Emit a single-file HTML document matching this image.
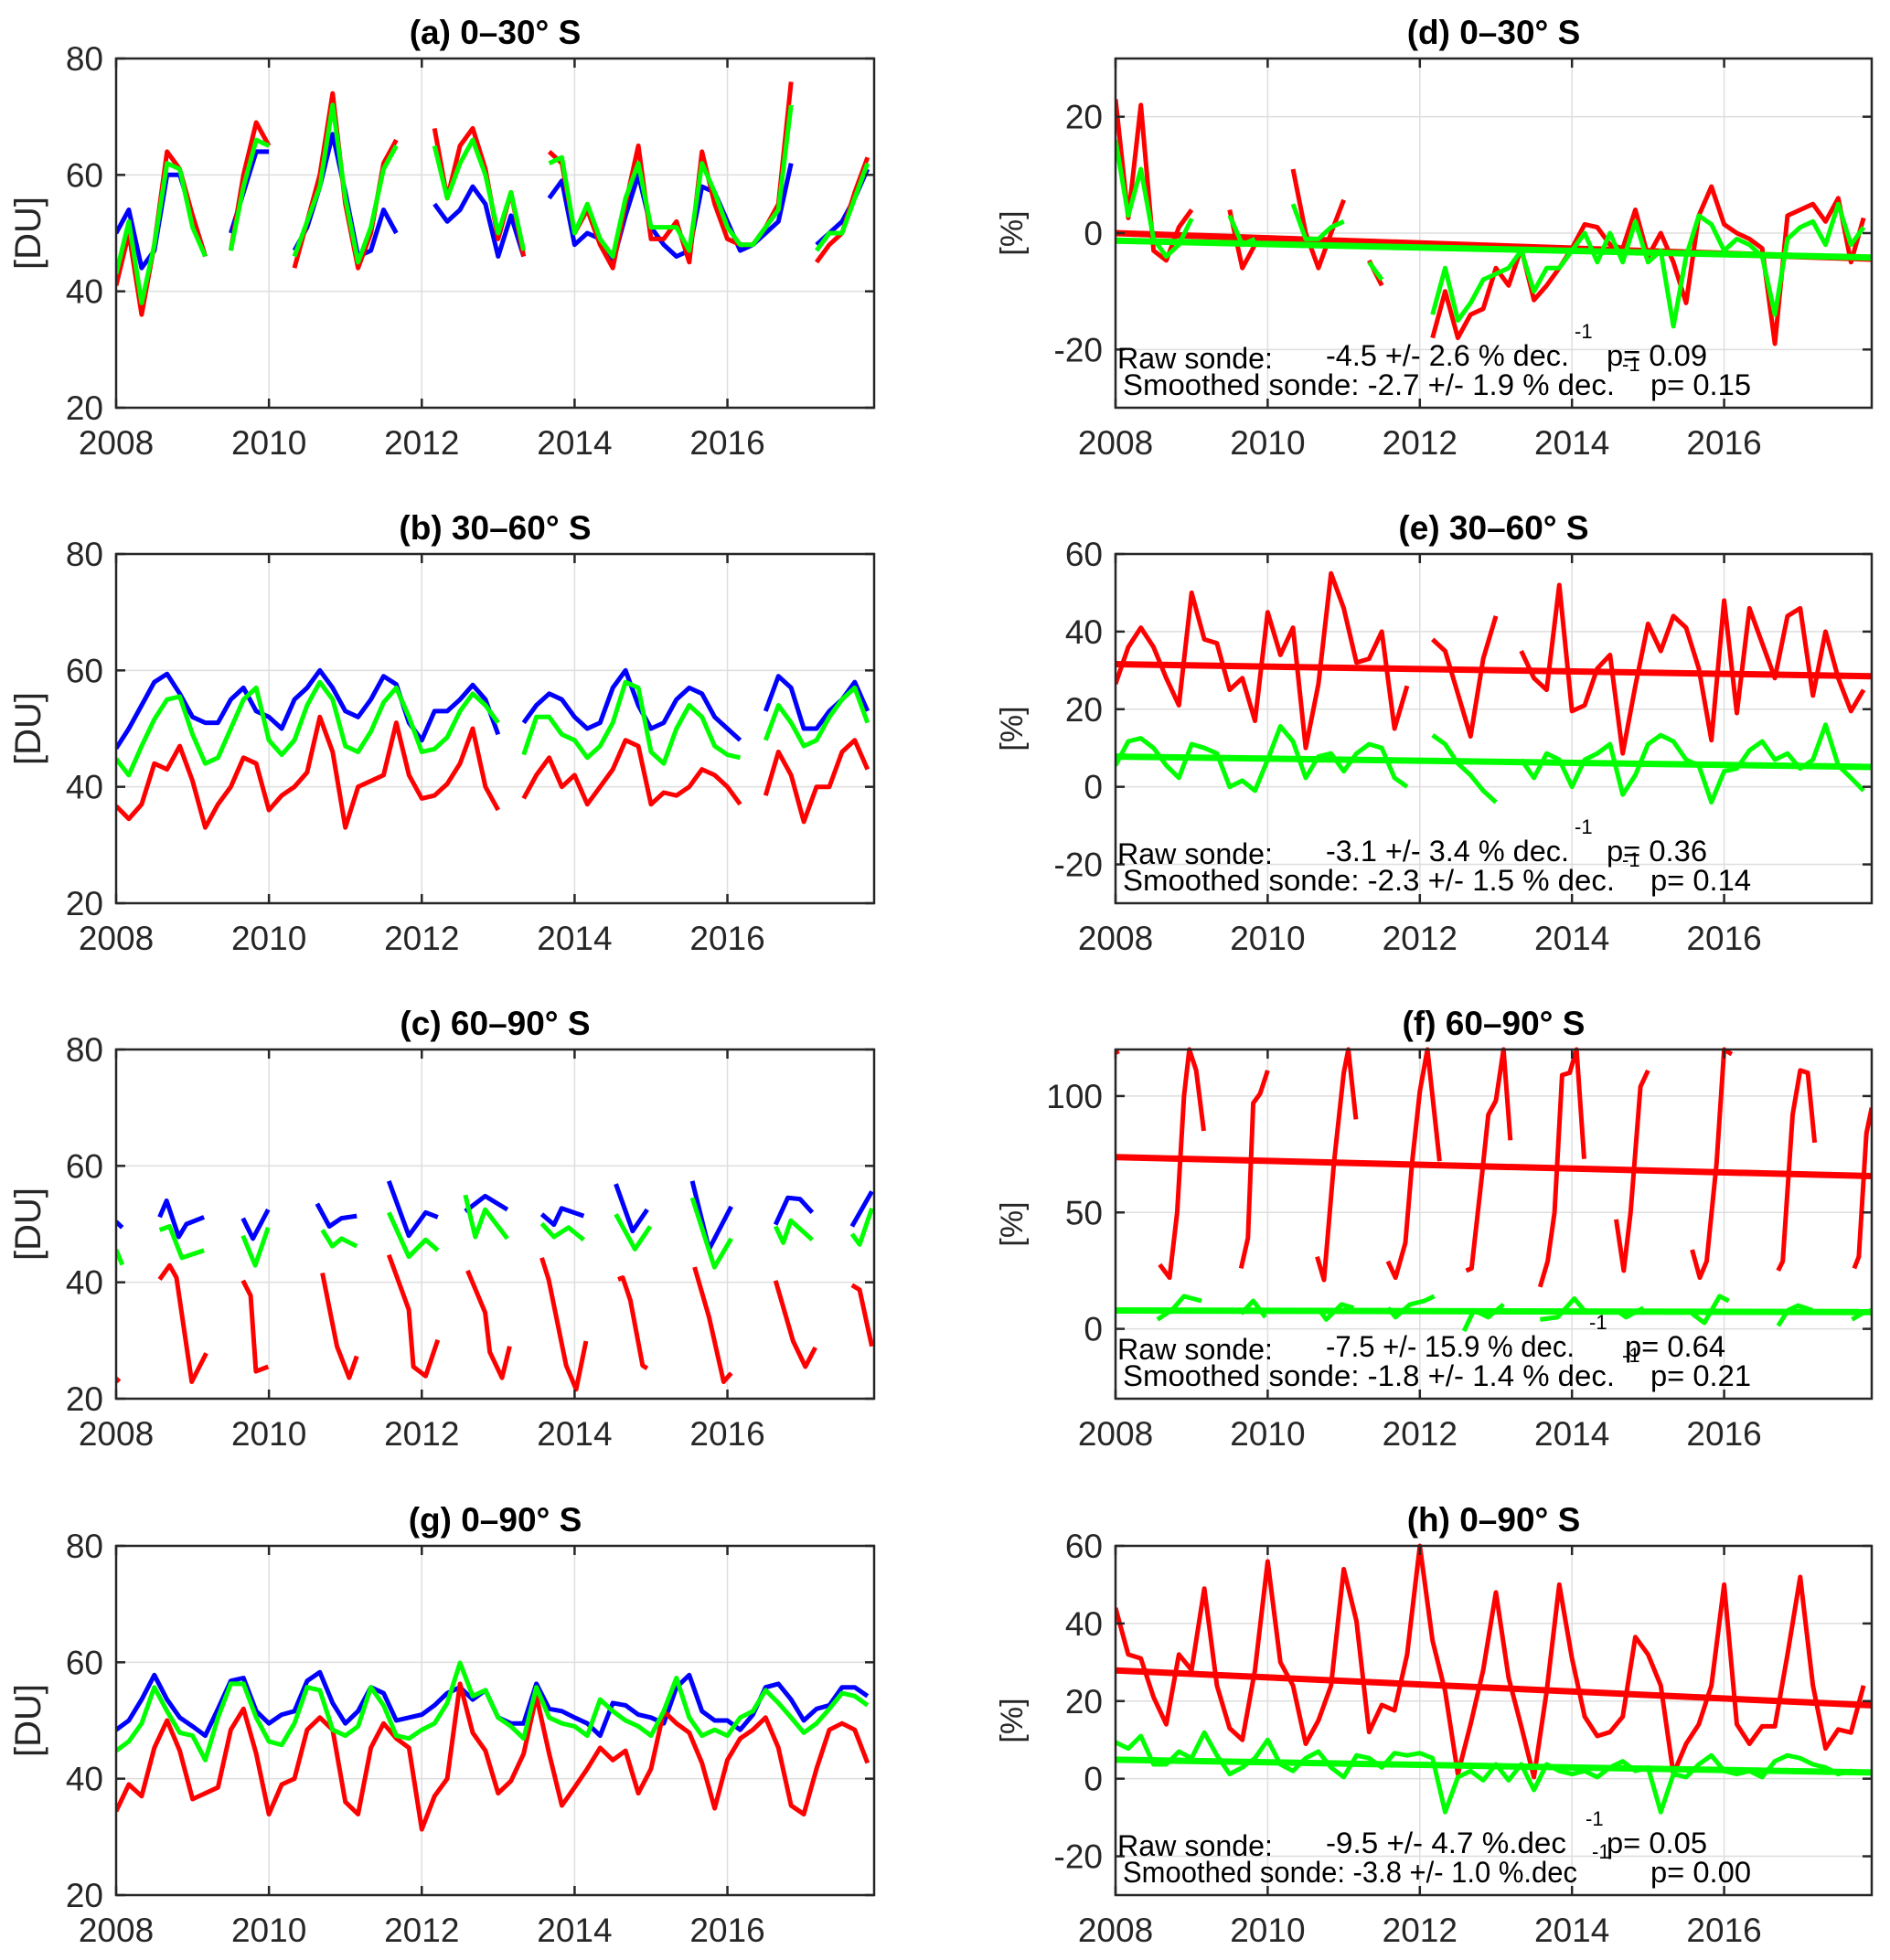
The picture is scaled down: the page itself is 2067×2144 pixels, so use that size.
<!DOCTYPE html>
<html><head><meta charset="utf-8"><title>Ozone panels</title>
<style>
html,body{margin:0;padding:0;background:#fff;}
svg{display:block;font-family:"Liberation Sans",Arial,sans-serif;}
</style></head>
<body>
<svg id="fig" width="2067" height="2144" viewBox="0 0 2067 2144" xmlns="http://www.w3.org/2000/svg">
<rect x="0" y="0" width="2067" height="2144" fill="#fff"/>
</svg>
<script>
// ---------- shared categories ----------
const xTickYears = [2008, 2010, 2012, 2014, 2016];
const biYears = Array.from({length: 60}, (_, i) => 2008 + i / 6);
const N = null;

// ---------- (a) 0-30S [DU] ----------
const aRed = [41,50,36,48,64,61,53,46,N,47, 60,69,65,N,44,52,60,74,55,44, 50,62,66,N,N,68,56,65,68,61, 49,57,46,N,64,62,50,54,48,44, 55,65,49,49,52,45,64,55,49,48, 48,51,55,76,N,45,48,50,57,63];
const aBlue = [50,54,44,47,60,60,53,46,N,50, 57,64,64,N,47,51,58,67,57,46, 47,54,50,N,N,55,52,54,58,55, 46,53,46,N,56,59,48,50,49,45, 53,60,51,48,46,47,58,57,52,47, 48,50,52,62,N,48,50,52,56,61];
const aGreen = [43,52,38,48,62,61,51,46,N,47, 58,66,65,N,46,52,58,72,56,45, 51,61,65,N,N,65,56,62,66,60, 50,57,47,N,62,63,50,55,49,46, 56,62,51,51,51,47,62,57,51,48, 48,51,54,72,N,47,50,50,56,62];

// ---------- (b) 30-60S ----------
const bBlue = [46.6,50,54,58,59.4,56,52,51,51,55, 57,53,52,50,55,57,60,57,53,52, 55,59,57.6,51,48,53,53,55,57.5,55, 49,N,51,54,56,55,52,50,51,57, 60,54,50,51,55,57,56,52,50,48, N,53,59,57,50,50,53,55,58,53];
const bGreen = [44.8,42,47,51.6,55,55.5,49,44,45,50, 55,57,48,45.5,48,54,58,55,47,46, 49.5,54.5,57,52,46,46.5,48.5,53,56,54, 51,N,45.5,52,52,49,48,45,47,51, 58,57,46,44,50,54,52,47,45.5,45, N,48,54,51,47,48,52,55,57,51];
const bRed = [36.7,34.5,37,44,43,47,41,33,37,40, 45,44,36,38.5,40,42.5,52,46,33,40, 41,42,51,42,38,38.5,40.5,44,50,40, 36,N,38,42,45,40,42,37,40,43, 48,47,37,39,38.5,40,43,42,40,37, N,38.5,46,42,34,40,40,46,48,43];

// ---------- (c) 60-90S (seasonal segments) ----------
const cBlueT = [2008.0,2008.08,N, 2008.57,2008.66,2008.82,2008.92,2009.15,N, 2009.66,2009.79,2009.99,N, 2010.63,2010.79,2010.95,2011.15,N, 2011.57,2011.83,2012.05,2012.21,N, 2012.57,2012.83,2013.12,N, 2013.57,2013.73,2013.83,2014.12,N, 2014.54,2014.76,2014.95,N, 2015.54,2015.76,2016.05,N, 2016.63,2016.79,2016.95,2017.11,N, 2017.63,2017.89];
const cBlueV = [50.4,49.4,N, 51.2,54,47.8,50,51.2,N, 51,47.5,52.5,N, 53.5,49.6,51,51.4,N, 57.4,48,52,51.2,N, 52.2,54.8,52.5,N, 51.7,49.9,52.7,51.4,N, 56.9,48.8,52.5,N, 57.4,45.7,53,N, 49.9,54.5,54.3,52,N, 49.6,55.6];
const cGreenT = [2008.0,2008.08,N, 2008.57,2008.7,2008.86,2009.15,N, 2009.66,2009.82,2009.99,N, 2010.7,2010.83,2010.95,2011.15,N, 2011.57,2011.83,2012.05,2012.21,N, 2012.57,2012.7,2012.83,2013.12,N, 2013.57,2013.73,2013.92,2014.12,N, 2014.54,2014.79,2014.99,N, 2015.54,2015.83,2016.05,N, 2016.63,2016.73,2016.83,2017.11,N, 2017.63,2017.73,2017.89];
const cGreenV = [45.6,43,N, 49,49.6,44.2,45.5,N, 48,42.9,49.4,N, 49,46.2,47.5,46.2,N, 52,44.4,47.3,45.5,N, 55,47.8,52.5,47.5,N, 50.1,47.8,49.4,47.3,N, 51.7,45.7,49.6,N, 54.5,42.6,47.5,N, 49.6,46.8,50.6,47.3,N, 48.3,46.5,52.7];
const cRedT = [2008.0,2008.04,N, 2008.57,2008.7,2008.79,2008.99,2009.18,N, 2009.66,2009.76,2009.83,2009.99,N, 2010.7,2010.89,2011.05,2011.15,N, 2011.57,2011.83,2011.89,2012.05,2012.21,N, 2012.6,2012.83,2012.89,2013.05,2013.15,N, 2013.57,2013.66,2013.89,2014.02,2014.15,N, 2014.57,2014.63,2014.73,2014.89,2014.95,N, 2015.57,2015.76,2015.95,2016.05,N, 2016.63,2016.86,2017.02,2017.15,N, 2017.63,2017.73,2017.89];
const cRedV = [22.9,23.5,N, 40.5,42.9,40.8,22.9,27.8,N, 40.3,37.7,24.7,25.5,N, 41.6,29,23.6,27.3,N, 44.7,35.3,25.5,23.9,30.1,N, 42,34.8,28,23.6,29,N, 44.2,40.5,25.7,21.6,29.9,N, 40.5,40.8,36.9,25.7,25.2,N, 42.6,34,22.9,24.4,N, 40.3,29.9,25.5,28.8,N, 39.5,38.7,29];

// ---------- (g) 0-90S ----------
const gBlue = [48.4,50,53.6,57.8,53.6,50.5,49,47.4,52,56.8, 57.3,51.6,49.5,51,51.6,56.8,58.3,53,49.5,51.6, 55.7,54.7,50,50.5,51,52.6,54.7,55.7,53.6,55.2, 50.5,49.5,49.5,56.3,52,51.6,50.5,49.5,47.4,53, 52.6,51,50.5,49.5,55.7,57.8,51.6,50,50,48.4, 51,55.7,56.3,53.6,50,52,52.6,55.7,55.7,54.2];
const gGreen = [44.8,46.4,49.5,55.7,51.6,47.9,47.4,43.2,50.5,56.3, 56.3,50.5,46.4,45.8,49.5,55.7,55.2,48.4,47.4,49, 55.7,52.6,47.4,46.9,48.4,49.5,53,59.9,54.2,55.2, 50.5,49,46.9,55.7,50.5,49.5,49,47.4,53.6,51.6, 50,49,47.4,51.6,57.3,50.5,47.4,48.4,47.4,50.5, 51.6,55.2,53,50.5,47.9,49.5,52,54.7,54.2,52.6];
const gRed = [34.4,39,37,45.3,50,44.8,36.5,37.5,38.5,48.4, 52,44.3,33.9,39,40,48.4,50.5,48.4,36,33.9, 45.3,49.5,46.9,45.3,31.3,37,40,56.3,47.9,44.8, 37.5,39.6,44.3,54.2,44.3,35.4,38.5,41.7,45.3,43.2, 44.8,37.5,41.7,51.6,49.5,47.9,42.7,34.9,43.2,46.9, 48.4,50.5,45.3,35.4,33.9,41.7,48.4,49.5,48.4,42.7];

// ---------- (d) 0-30S [%] ----------
const dRed = [23,2.6,22,-3,-4.7,1,4,N,N,4, -6,-2,N,N,11,0,-6,0,5.7,N, -4.7,-9,N,N,N,-18,-10,-18,-14,-13, -6,-9,-2.6,-11.5,-9,-6,-2.6,1.5,1,-2, -2.6,4,-4,0,-5,-12,3,8,1.5,0, -1,-2.6,-19,3,4,5,2,6,-5,2.6];
const dGreen = [16,3,11,-1,-4,-2,2.5,N,N,3, -2,-1,N,N,5,-1,-1,1,2,N, -5,-8,N,N,N,-14,-6,-15,-12,-8, -7,-6,-3,-10,-6,-6,-3,0,-5,0, -5,2,-5,-3,-16,-4,3,1.5,-3,-1, -2,-4,-14,-1,1,2,-2,5,-2,1];
const dRedTrend = [0, -4.4];
const dGreenTrend = [-1.3, -4.2];

// ---------- (e) 30-60S [%] ----------
const eRed = [26.5,36,41,36,28,21,50,38,37,25, 28,17,45,34,41,10,26.5,55,46,32, 33,40,15,26,N,38,35,24,13,33, 44,N,35,28,25,52,19.5,21,30.5,34, 8.6,26,42,35,44,41,30.5,12,48,19, 46,37,28,44,46,23.5,40,28,19.5,25];
const eGreen = [5.5,11.7,12.5,10,5.5,2.3,11,10,8.6,0, 1.6,-1,7,15.6,11.7,2.3,7.8,8.6,4,8.6, 11,10,2.3,0,N,13.3,11,6,3,-1, -4,N,7,2.3,8.6,7,0,7,8.6,11, -2,3,11,13.3,11.7,7,5.5,-4,4,4.7, 9.4,11.7,7,8.6,4.7,7,16,5.5,2.3,-1];
const eRedTrend = [31.6, 28.5];
const eGreenTrend = [7.8, 5.1];

// ---------- (f) 60-90S [%] ----------
const fRedT = [2008.0,2008.03,N, 2008.58,2008.71,2008.81,2008.9,2008.97,2009.06,2009.16,N, 2009.65,2009.74,2009.81,2009.9,2010.0,N, 2010.65,2010.74,2010.87,2011.0,2011.06,2011.1,2011.16,N, 2011.58,2011.68,2011.81,2011.9,2012.0,2012.1,2012.26,N, 2012.61,2012.68,2012.81,2012.9,2013.0,2013.1,2013.19,N, 2013.58,2013.68,2013.77,2013.87,2013.97,2014.06,2014.16,N, 2014.58,2014.68,2014.77,2014.9,2015.0,N, 2015.58,2015.68,2015.77,2015.9,2016.0,2016.1,N, 2016.71,2016.77,2016.9,2017.0,2017.1,2017.19,N, 2017.71,2017.77,2017.87,2017.94];
const fRedV = [120,118,N, 27.6,22,50,100,120,111,85,N, 26,39,97,101,111,N, 31,21,71,110,120,108,90,N, 29,22,37,72,102,120,72,N, 25,26,64,92,98,120,81,N, 18,29,50,109,110,120,73,N, 47,25,50,104,111,N, 34,22,29,71,120,118,N, 25,29,92,111,110,80,N, 26,31,84,95];
const fGreenT = [2008.55,2008.74,2008.9,2009.13,N, 2009.65,2009.81,2009.97,N, 2010.68,2010.77,2010.97,2011.13,N, 2011.58,2011.68,2011.87,2012.06,2012.19,N, 2012.58,2012.71,2012.9,2013.1,N, 2013.58,2013.81,2014.03,2014.16,N, 2014.58,2014.71,2014.94,N, 2015.58,2015.74,2015.94,2016.06,N, 2016.71,2016.84,2016.97,2017.16,N, 2017.68,2017.81,2017.94];
const fGreenV = [4,8,14,12,N, 6.5,12,5,N, 8,4,10.5,9,N, 9,5,10.5,12,14,N, -1,8,5,10.5,N, 4,5,13,8,N, 8,5,9,N, 6.5,2.6,14,12,N, 1.3,8,10,8,N, 4,6.5,8];
const fRedTrend = [73.8, 65.6];
const fGreenTrend = [7.9, 7.2];

// ---------- (h) 0-90S [%] ----------
const hRed = [44,32,31,21,14,32,28,49,24,13, 10,28,56,30,24,9,15,24,54,40.6, 12,19,17.6,32,60,35.6,22.5,1.2,14,28, 48,26,13.5,0.4,22.5,50,31,16,11,12, 16,36.5,32,24,1.2,9,14,24,50,14, 9,13.5,13.5,32,52,24,7.8,12.7,11.9,24];
const hGreen = [9.4,7.8,11,3.7,3.7,7,5.3,11.9,6,1.2, 2.9,5.3,10,3.7,2,5.3,7,2.9,0.4,6, 5.3,2.9,6.6,6,6.6,5.3,-8.6,0.4,2,-0.4, 3.7,-0.4,3.7,-2.9,3.7,2,1.2,2,0.4,2.9, 4.5,2,2.9,-8.6,1.2,0.4,3.7,6,2,1.2, 2,0.4,4.5,6,5.3,3.7,2.9,1.2,2,1.6];
const hRedTrend = [27.9, 18.9];
const hGreenTrend = [4.9, 1.6];

const RED = '#ff0000', GREEN = '#00ff00', BLUE = '#0000ff';
const NS = 'http://www.w3.org/2000/svg';
const svg = document.getElementById('fig');
function mk(tag, parent) { const e = document.createElementNS(NS, tag); parent.appendChild(e); return e; }

let clipId = 0;
function panel(p) {
  const g = mk('g', svg);
  
  
  const sx = v => p.x0 + (v - p.dom[0]) / (p.dom[1] - p.dom[0]) * (p.x1 - p.x0);
  const sy = v => p.y1 - (v - p.ylim[0]) / (p.ylim[1] - p.ylim[0]) * (p.y1 - p.y0);
  const grid = mk('g', g);
  
  
  xTickYears.forEach(t => {
    const l = mk('line', grid);
    
    
    l.setAttribute('x1', sx(t)); l.setAttribute('x2', sx(t));
    l.setAttribute('y1', p.y0); l.setAttribute('y2', p.y1);
    l.setAttribute('stroke', '#dedede'); l.setAttribute('stroke-width', '1.5');
  });
  p.yticks.forEach(v => {
    const l = mk('line', grid);
    
    
    l.setAttribute('x1', p.x0); l.setAttribute('x2', p.x1);
    l.setAttribute('y1', sy(v)); l.setAttribute('y2', sy(v));
    l.setAttribute('stroke', '#dedede'); l.setAttribute('stroke-width', '1.5');
  });
  const cid = 'clip' + (clipId++);
  const cp = mk('clipPath', g); cp.setAttribute('id', cid);
  const cr = mk('rect', cp);
  cr.setAttribute('x', p.x0); cr.setAttribute('y', p.y0 - 3);
  cr.setAttribute('width', p.x1 - p.x0); cr.setAttribute('height', p.y1 - p.y0 + 3);
  const plot = mk('g', g);
  
  
  plot.setAttribute('clip-path', 'url(#' + cid + ')');
  p.series.forEach(s => {
    let d = '', pen = false;
    for (let i = 0; i < s.y.length; i++) {
      const t = s.x[i], v = s.y[i];
      if (t === null || v === null || t === undefined) { pen = false; continue; }
      d += (pen ? 'L' : 'M') + sx(t).toFixed(1) + ' ' + sy(v).toFixed(1);
      pen = true;
    }
    const path = mk('path', plot);
    
    
    path.setAttribute('d', d);
    path.setAttribute('fill', 'none');
    path.setAttribute('stroke', s.color);
    path.setAttribute('stroke-width', s.w || 5);
    path.setAttribute('stroke-linejoin', 'round');
  });
  const box = mk('rect', g);
  
  
  box.setAttribute('x', p.x0); box.setAttribute('y', p.y0);
  box.setAttribute('width', p.x1 - p.x0); box.setAttribute('height', p.y1 - p.y0);
  box.setAttribute('fill', 'none'); box.setAttribute('stroke', '#262626'); box.setAttribute('stroke-width', '2.5');
  xTickYears.forEach(t => {
    [[p.y1, p.y1 - 10], [p.y0, p.y0 + 10]].forEach(([a, b]) => {
      const l = mk('line', g);
      
      
      l.setAttribute('x1', sx(t)); l.setAttribute('x2', sx(t));
      l.setAttribute('y1', a); l.setAttribute('y2', b);
      l.setAttribute('stroke', '#262626'); l.setAttribute('stroke-width', '2.5');
    });
    const tx = mk('text', g);
    
    
    tx.setAttribute('x', sx(t)); tx.setAttribute('y', p.y1 + 51);
    tx.setAttribute('text-anchor', 'middle'); tx.setAttribute('font-size', '37');
    tx.setAttribute('fill', '#262626');
    tx.textContent = String(t);
  });
  p.yticks.forEach(v => {
    [[p.x0, p.x0 + 10], [p.x1, p.x1 - 10]].forEach(([a, b]) => {
      const l = mk('line', g);
      
      
      l.setAttribute('x1', a); l.setAttribute('x2', b);
      l.setAttribute('y1', sy(v)); l.setAttribute('y2', sy(v));
      l.setAttribute('stroke', '#262626'); l.setAttribute('stroke-width', '2.5');
    });
    const tx = mk('text', g);
    
    
    tx.setAttribute('x', p.x0 - 14); tx.setAttribute('y', sy(v) + 13);
    tx.setAttribute('text-anchor', 'end'); tx.setAttribute('font-size', '37');
    tx.setAttribute('fill', '#262626');
    tx.textContent = String(v);
  });
  const ti = mk('text', g);
  
  
  ti.setAttribute('x', (p.x0 + p.x1) / 2); ti.setAttribute('y', p.y0 - 16);
  ti.setAttribute('text-anchor', 'middle'); ti.setAttribute('font-size', '37');
  ti.setAttribute('font-weight', 'bold');
  ti.textContent = p.title;
  const yl = mk('text', g);
  
  
  const cy = (p.y0 + p.y1) / 2;
  yl.setAttribute('transform', 'translate(' + p.ylx + ',' + cy + ') rotate(-90)');
  yl.setAttribute('text-anchor', 'middle'); yl.setAttribute('font-size', p.ylfs);
  yl.setAttribute('fill', '#262626');
  yl.textContent = p.ylabel;
  if (p.ann) {
    const a = p.ann;
    const mkT = (txt, x, y, fs, nm, len) => {
      const t = mk('text', g);
      
      
      t.setAttribute('x', x); t.setAttribute('y', y); t.setAttribute('font-size', fs);
      if (len) { t.setAttribute('textLength', len); t.setAttribute('lengthAdjust', 'spacingAndGlyphs'); }
      t.textContent = txt;
    };
    mkT('Raw sonde:', 1222, p.y0 + 339, 32, 'raw-label', 170);
    mkT(a.raw, 1450, p.y0 + 336, 32, 'raw-trend-value', a.rl);
    mkT('-1', a.rs, p.y0 + 306, 22, 'raw-superscript');
    mkT(a.rp, a.rpx, p.y0 + 336, 32, 'raw-p-value', 110);
    mkT('Smoothed sonde: ' + a.sm, 1228, p.y0 + 368, 32, 'smoothed-trend-value', a.sl);
    mkT('-1', a.ss, p.y0 + 342, 22, 'smoothed-superscript');
    mkT(a.sp, a.spx, p.y0 + 368, 32, 'smoothed-p-value', 110);
  }
}

const LX = [127, 956], LD = [2008, 2017.92];
const RX = [1220, 2047], RD = [2008, 2017.94];
const ROWS = [64, 606, 1148, 1691], H = 382;
const duTicks = [20, 40, 60, 80];
function left(name, row, title, series) {
  panel({name, x0: LX[0], x1: LX[1], y0: ROWS[row], y1: ROWS[row] + H, dom: LD, ylim: [20, 80], yticks: duTicks, title, ylabel: '[DU]', ylx: 44, ylfs: 40, series});
}
function right(name, row, title, ylim, yticks, series, ann) {
  panel({name, x0: RX[0], x1: RX[1], y0: ROWS[row], y1: ROWS[row] + H, dom: RD, ylim, yticks, title, ylabel: '[%]', ylx: 1118, ylfs: 34, series, ann});
}
const trendX = [2008, 2017.94];

left('panel-a', 0, '(a) 0\u201330\u00b0 S', [
  {name: 'a-blue-line', x: biYears, y: aBlue, color: BLUE},
  {name: 'a-red-line', x: biYears, y: aRed, color: RED},
  {name: 'a-green-line', x: biYears, y: aGreen, color: GREEN}]);
left('panel-b', 1, '(b) 30\u201360\u00b0 S', [
  {name: 'b-blue-line', x: biYears, y: bBlue, color: BLUE},
  {name: 'b-red-line', x: biYears, y: bRed, color: RED},
  {name: 'b-green-line', x: biYears, y: bGreen, color: GREEN}]);
left('panel-c', 2, '(c) 60\u201390\u00b0 S', [
  {name: 'c-blue-line', x: cBlueT, y: cBlueV, color: BLUE},
  {name: 'c-red-line', x: cRedT, y: cRedV, color: RED},
  {name: 'c-green-line', x: cGreenT, y: cGreenV, color: GREEN}]);
left('panel-g', 3, '(g) 0\u201390\u00b0 S', [
  {name: 'g-blue-line', x: biYears, y: gBlue, color: BLUE},
  {name: 'g-red-line', x: biYears, y: gRed, color: RED},
  {name: 'g-green-line', x: biYears, y: gGreen, color: GREEN}]);

right('panel-d', 0, '(d) 0\u201330\u00b0 S', [-30, 30], [-20, 0, 20], [
  {name: 'd-red-line', x: biYears, y: dRed, color: RED},
  {name: 'd-red-trend', x: trendX, y: dRedTrend, color: RED, w: 7},
  {name: 'd-green-line', x: biYears, y: dGreen, color: GREEN},
  {name: 'd-green-trend', x: trendX, y: dGreenTrend, color: GREEN, w: 7}],
  {raw: '-4.5 +/- 2.6 % dec.', rl: 266, rs: 1722, rp: 'p= 0.09', rpx: 1757, sm: '-2.7 +/- 1.9 % dec.', sl: 538, ss: 1774, sp: 'p= 0.15', spx: 1805});
right('panel-e', 1, '(e) 30\u201360\u00b0 S', [-30, 60], [-20, 0, 20, 40, 60], [
  {name: 'e-red-line', x: biYears, y: eRed, color: RED},
  {name: 'e-red-trend', x: trendX, y: eRedTrend, color: RED, w: 7},
  {name: 'e-green-line', x: biYears, y: eGreen, color: GREEN},
  {name: 'e-green-trend', x: trendX, y: eGreenTrend, color: GREEN, w: 7}],
  {raw: '-3.1 +/- 3.4 % dec.', rl: 266, rs: 1722, rp: 'p= 0.36', rpx: 1757, sm: '-2.3 +/- 1.5 % dec.', sl: 538, ss: 1774, sp: 'p= 0.14', spx: 1805});
right('panel-f', 2, '(f) 60\u201390\u00b0 S', [-30, 120], [0, 50, 100], [
  {name: 'f-red-line', x: fRedT, y: fRedV, color: RED},
  {name: 'f-red-trend', x: trendX, y: fRedTrend, color: RED, w: 7},
  {name: 'f-green-line', x: fGreenT, y: fGreenV, color: GREEN},
  {name: 'f-green-trend', x: trendX, y: fGreenTrend, color: GREEN, w: 7}],
  {raw: '-7.5 +/- 15.9 % dec.', rl: 272, rs: 1738, rp: 'p= 0.64', rpx: 1777, sm: '-1.8 +/- 1.4 % dec.', sl: 538, ss: 1774, sp: 'p= 0.21', spx: 1805});
right('panel-h', 3, '(h) 0\u201390\u00b0 S', [-30, 60], [-20, 0, 20, 40, 60], [
  {name: 'h-red-line', x: biYears, y: hRed, color: RED},
  {name: 'h-red-trend', x: trendX, y: hRedTrend, color: RED, w: 7},
  {name: 'h-green-line', x: biYears, y: hGreen, color: GREEN},
  {name: 'h-green-trend', x: trendX, y: hGreenTrend, color: GREEN, w: 7}],
  {raw: '-9.5 +/- 4.7 %.dec', rl: 263, rs: 1734, rp: 'p= 0.05', rpx: 1757, sm: '-3.8 +/- 1.0 %.dec', sl: 497, ss: 1741, sp: 'p= 0.00', spx: 1805});
</script>
</body></html>
